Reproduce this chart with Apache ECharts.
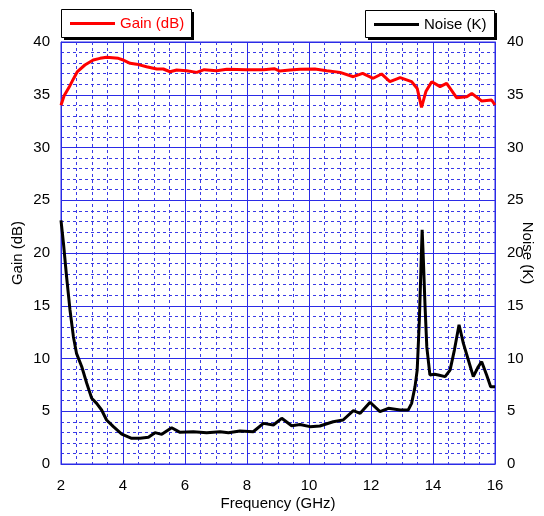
<!DOCTYPE html>
<html>
<head>
<meta charset="utf-8">
<script src="https://cdn.jsdelivr.net/npm/echarts@6/dist/echarts.min.js"></script>
<style>
html,body{margin:0;padding:0;background:#fff;}
#chart{width:544px;height:516px;}
</style>
</head>
<body>
<div id="chart"></div>
<script>
var gainFreq = [2.0,2.1,2.26,2.4,2.53,2.77,3.04,3.26,3.47,3.85,4.01,4.23,4.44,4.76,5.09,5.3,5.52,5.73,6.05,6.38,6.62,7.02,7.35,7.99,8.53,8.88,9.06,9.39,9.71,10.19,10.57,11.0,11.43,11.73,12.07,12.34,12.61,12.94,13.31,13.49,13.63,13.77,13.96,14.23,14.44,14.76,15.09,15.25,15.57,15.89,16.0];
var gainVals = [34.0,34.9,35.7,36.5,37.2,37.82,38.29,38.45,38.55,38.45,38.29,37.98,37.9,37.66,37.44,37.44,37.18,37.35,37.28,37.12,37.38,37.28,37.41,37.38,37.38,37.47,37.25,37.35,37.41,37.44,37.28,37.12,36.71,37.03,36.56,36.97,36.24,36.62,36.24,35.6,33.8,35.3,36.24,35.77,36.08,34.72,34.82,35.13,34.41,34.5,34.03];
var noiseFreq = [2.0,2.08,2.18,2.29,2.4,2.5,2.67,2.83,2.99,3.15,3.31,3.47,3.69,3.96,4.28,4.55,4.82,5.03,5.25,5.57,5.84,6.27,6.7,7.13,7.4,7.77,8.2,8.53,8.85,9.12,9.44,9.71,10.03,10.35,10.78,11.1,11.43,11.65,11.97,12.29,12.56,12.94,13.2,13.31,13.42,13.49,13.56,13.61,13.65,13.69,13.74,13.8,13.9,14.05,14.17,14.39,14.55,14.69,14.84,14.98,15.14,15.3,15.46,15.57,15.73,15.86,16.0];
var noiseVals = [23.1,20.9,17.75,14.6,12.07,10.49,9.22,7.65,6.23,5.75,5.12,4.17,3.54,2.84,2.43,2.45,2.53,2.97,2.81,3.44,3.0,3.06,2.97,3.06,2.97,3.13,3.06,3.85,3.7,4.33,3.63,3.75,3.54,3.6,4.0,4.17,5.05,4.8,5.85,4.96,5.28,5.12,5.12,5.75,7.33,8.9,13.6,18.4,22.2,19.3,15.2,11.1,8.44,8.5,8.44,8.28,8.9,10.8,13.2,11.44,9.86,8.28,9.22,9.7,8.44,7.33,7.33];
var seriesNames = ['Gain (dB)', 'Noise (K)'];
var axisTitles = ['Frequency (GHz)', 'Gain (dB)', 'Noise (K)'];

function zip(a, b) { return a.map(function (v, i) { return [v, b[i]]; }); }

var FONT = 'Liberation Sans';
var FS = 15;
var MAJOR = '#2b2be6';
var MINOR = '#3a3ae6';

var chart = echarts.init(document.getElementById('chart'), null, {renderer: 'canvas'});

var legendCommon = {
  orient: 'horizontal',
  icon: 'rect',
  itemWidth: 45,
  itemHeight: 3,
  itemGap: 0,
  padding: [7, 10, 7, 9],
  selectedMode: false,
  z: 5
};

function legendBox(x, y, w, h) {
  return [
    {type: 'rect', z: 3, shape: {x: x + 3, y: y + 3, width: w, height: h}, style: {fill: '#000'}},
    {type: 'rect', z: 4, shape: {x: x + 0.5, y: y + 0.5, width: w, height: h}, style: {fill: '#fff', stroke: '#000', lineWidth: 1}}
  ];
}

chart.setOption({
  animation: false,
  backgroundColor: '#ffffff',
  textStyle: {fontFamily: FONT},
  graphic: legendBox(61, 9, 130, 28).concat(legendBox(365, 10, 129, 27)),
  grid: {left: 61, right: 49, top: 42, bottom: 52, show: true, borderColor: MAJOR, borderWidth: 1,
    backgroundColor: 'transparent', containLabel: false, outerBoundsMode: 'none'},
  legend: [
    Object.assign({}, legendCommon, {data: [seriesNames[0]], left: 61, top: 9,
      textStyle: {color: '#ff0000', fontSize: FS, fontFamily: FONT}}),
    Object.assign({}, legendCommon, {data: [seriesNames[1]], left: 365, top: 10,
      textStyle: {color: '#000000', fontSize: FS, fontFamily: FONT}})
  ],
  xAxis: {
    type: 'value', min: 2, max: 16, interval: 2,
    name: axisTitles[0], nameLocation: 'middle', nameGap: 32, nameMoveOverlap: false,
    nameTextStyle: {color: '#000', fontSize: FS, fontFamily: FONT},
    axisLine: {show: true, lineStyle: {color: MAJOR, width: 1}},
    axisTick: {show: false},
    axisLabel: {color: '#000', fontSize: FS, fontFamily: FONT, margin: 14},
    splitLine: {show: true, lineStyle: {color: MAJOR, width: 1}},
    minorTick: {show: false, splitNumber: 4},
    minorSplitLine: {show: true, lineStyle: {color: MINOR, width: 1, type: [3, 3]}}
  },
  yAxis: [
    {
      type: 'value', min: 0, max: 40, interval: 5, position: 'left',
      name: axisTitles[1], nameLocation: 'middle', nameGap: 36, nameMoveOverlap: false,
      nameTextStyle: {color: '#000', fontSize: FS, fontFamily: FONT},
      axisLine: {show: true, lineStyle: {color: MAJOR, width: 1}},
      axisTick: {show: false},
      axisLabel: {color: '#000', fontSize: FS, fontFamily: FONT, margin: 11},
      splitLine: {show: true, lineStyle: {color: MAJOR, width: 1}},
      minorTick: {show: false, splitNumber: 5},
      minorSplitLine: {show: true, lineStyle: {color: MINOR, width: 1, type: [3, 3]}}
    },
    {
      type: 'value', min: 0, max: 40, interval: 5, position: 'right',
      name: axisTitles[2], nameLocation: 'middle', nameGap: 25, nameRotate: -90, nameMoveOverlap: false,
      nameTextStyle: {color: '#000', fontSize: FS, fontFamily: FONT},
      axisLine: {show: true, lineStyle: {color: MAJOR, width: 1}},
      axisTick: {show: false},
      axisLabel: {color: '#000', fontSize: FS, fontFamily: FONT, margin: 12},
      splitLine: {show: false}
    }
  ],
  series: [
    {
      name: seriesNames[0], type: 'line', yAxisIndex: 0, showSymbol: false, symbol: 'none',
      data: zip(gainFreq, gainVals),
      itemStyle: {color: '#ff0000'},
      lineStyle: {color: '#ff0000', width: 3}
    },
    {
      name: seriesNames[1], type: 'line', yAxisIndex: 1, showSymbol: false, symbol: 'none',
      data: zip(noiseFreq, noiseVals),
      itemStyle: {color: '#000000'},
      lineStyle: {color: '#000000', width: 3}
    }
  ]
});
</script>
</body>
</html>
